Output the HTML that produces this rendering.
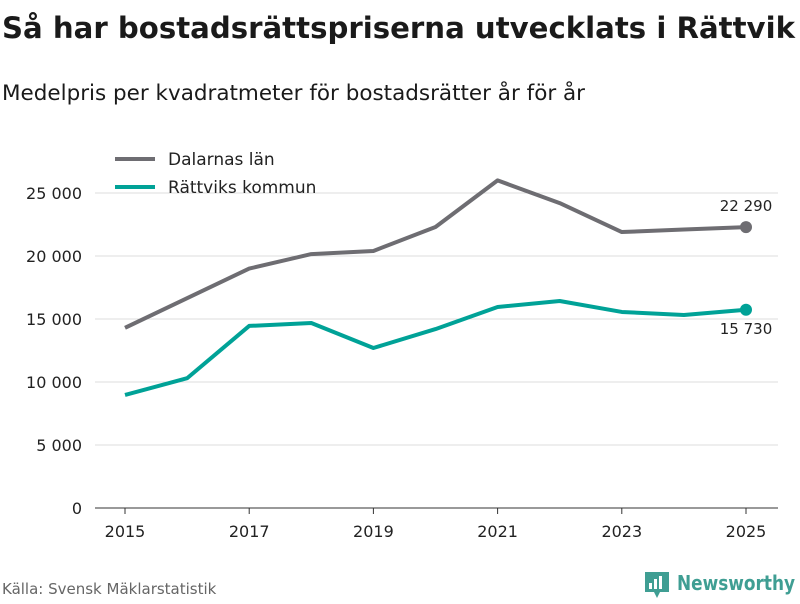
<!DOCTYPE html>
<html><head><meta charset="utf-8"><style>
body{margin:0;width:800px;height:600px;background:#fff;font-family:"DejaVu Sans","Liberation Sans",sans-serif;overflow:hidden}
svg text{font-family:"DejaVu Sans","Liberation Sans",sans-serif}
</style></head><body>
<svg width="800" height="600">
<text x="2" y="38" font-size="29" font-weight="bold" fill="#1a1a1a" textLength="793" lengthAdjust="spacingAndGlyphs">Så har bostadsrättspriserna utvecklats i Rättvik</text>
<text x="2" y="100" font-size="21" fill="#1a1a1a" textLength="583" lengthAdjust="spacingAndGlyphs">Medelpris per kvadratmeter för bostadsrätter år för år</text>
<g id="grid"></g>
<g id="series"></g>
<g>
<line x1="115" y1="159" x2="155" y2="159" stroke="#6e6d72" stroke-width="4"/>
<text x="168" y="165" font-size="17" fill="#222">Dalarnas län</text>
<line x1="115" y1="187" x2="155" y2="187" stroke="#00a297" stroke-width="4"/>
<text x="168" y="193" font-size="17" fill="#222">Rättviks kommun</text>
</g>
<text x="2" y="594" font-size="15" fill="#666">Källa: Svensk Mäklarstatistik</text>
<g>
<path d="M645 572h24v20h-9l-3 6-3-6h-9z" fill="#3f9e93"/>
<rect x="649" y="583" width="3" height="6" fill="#fff"/><rect x="654" y="579" width="3" height="10" fill="#fff"/><rect x="659" y="576" width="3" height="13" fill="#fff"/>
<text x="677" y="590" font-size="20" font-weight="bold" fill="#3f9e93" textLength="118" lengthAdjust="spacingAndGlyphs">Newsworthy</text>
</g>
</svg>
<script>
const years=[2015,2016,2017,2018,2019,2020,2021,2022,2023,2024,2025];
const dalarna=[14300,16650,19000,20150,20400,22300,26000,24200,21900,22100,22290];
const rattvik=[8970,10300,14450,14680,12700,14200,15950,16430,15560,15320,15730];
const yTicks=[0,5000,10000,15000,20000,25000];
const xTicks=[2015,2017,2019,2021,2023,2025];
const NS="http://www.w3.org/2000/svg";
const x=v=>125+(v-2015)*62.1;
const y=v=>508-v*0.0126;
const fmt=v=>v===0?"0":String(v).replace(/\B(?=(\d{3})+(?!\d))/g," ");
function mk(t,a,p){const e=document.createElementNS(NS,t);for(const k in a)e.setAttribute(k,a[k]);p.appendChild(e);return e;}
const g=document.getElementById('grid'),s=document.getElementById('series');
yTicks.forEach(v=>{
 const l=mk('line',{x1:95,x2:778,y1:y(v),y2:y(v),stroke:v===0?'#333':'#ddd','stroke-width':1},g);
 
 
 const t=mk('text',{x:82,y:y(v)+6,'text-anchor':'end','font-size':16,fill:'#222'},g);t.textContent=fmt(v);
 
 
});
xTicks.forEach(v=>{
 const l=mk('line',{x1:x(v),x2:x(v),y1:508,y2:514,stroke:'#333'},g);
 
 
 const t=mk('text',{x:x(v),y:537,'text-anchor':'middle','font-size':16,fill:'#222'},g);t.textContent=v;
 
 
});
function line(vals,col,name,labDy){
 const p=mk('polyline',{points:vals.map((v,i)=>x(years[i])+','+y(v)).join(' '),fill:'none',stroke:col,'stroke-width':4,'stroke-linejoin':'round'},s);
 
 
 const n=vals.length-1;
 const c=mk('circle',{cx:x(years[n]),cy:y(vals[n]),r:6,fill:col},s);
 
 
 const t=mk('text',{x:x(years[n]),y:y(vals[n])+labDy,'text-anchor':'middle','font-size':15,fill:'#222'},s);t.textContent=fmt(vals[n]);
 
 
}
line(dalarna,'#6e6d72','dalarna',-16);
line(rattvik,'#00a297','rattvik',24);
</script>
</body></html>
